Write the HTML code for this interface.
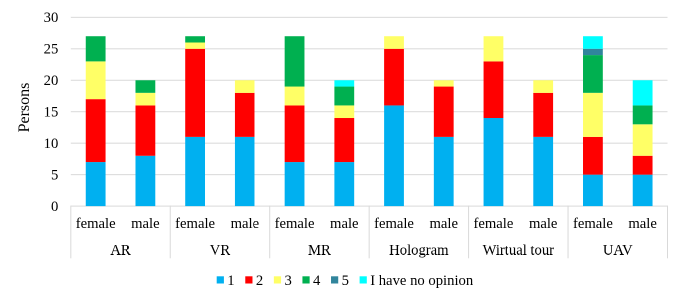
<!DOCTYPE html>
<html><head><meta charset="utf-8"><style>
html,body{margin:0;padding:0;background:#fff;width:685px;height:302px;overflow:hidden}
#w{position:absolute;left:0;top:0;width:1370px;height:604px;transform:scale(0.5);transform-origin:0 0;will-change:transform}
svg{display:block}
text{font-family:"Liberation Serif",serif;font-size:14.67px;fill:#000}
</style></head><body>
<div id="w"><svg width="1370" height="604" viewBox="0 0 685 302">
<rect x="70.80" y="174.14" width="596.70" height="1" fill="#D9D9D9"/>
<rect x="70.80" y="142.68" width="596.70" height="1" fill="#D9D9D9"/>
<rect x="70.80" y="111.22" width="596.70" height="1" fill="#D9D9D9"/>
<rect x="70.80" y="79.76" width="596.70" height="1" fill="#D9D9D9"/>
<rect x="70.80" y="48.30" width="596.70" height="1" fill="#D9D9D9"/>
<rect x="70.80" y="16.84" width="596.70" height="1" fill="#D9D9D9"/>
<rect x="70.80" y="205.60" width="596.70" height="1" fill="#D9D9D9"/>
<rect x="70.30" y="205.60" width="1" height="52.70" fill="#D9D9D9"/>
<rect x="169.75" y="205.60" width="1" height="52.70" fill="#D9D9D9"/>
<rect x="269.20" y="205.60" width="1" height="52.70" fill="#D9D9D9"/>
<rect x="368.65" y="205.60" width="1" height="52.70" fill="#D9D9D9"/>
<rect x="468.10" y="205.60" width="1" height="52.70" fill="#D9D9D9"/>
<rect x="567.55" y="205.60" width="1" height="52.70" fill="#D9D9D9"/>
<rect x="667.00" y="205.60" width="1" height="52.70" fill="#D9D9D9"/>
<rect x="85.76" y="162.06" width="19.80" height="44.04" fill="#00B0F0"/>
<rect x="85.76" y="99.14" width="19.80" height="62.92" fill="#FF0000"/>
<rect x="85.76" y="61.38" width="19.80" height="37.75" fill="#FFFF66"/>
<rect x="85.76" y="36.22" width="19.80" height="25.17" fill="#00B050"/>
<rect x="135.49" y="155.76" width="19.80" height="50.34" fill="#00B0F0"/>
<rect x="135.49" y="105.43" width="19.80" height="50.34" fill="#FF0000"/>
<rect x="135.49" y="92.84" width="19.80" height="12.58" fill="#FFFF66"/>
<rect x="135.49" y="80.26" width="19.80" height="12.58" fill="#00B050"/>
<rect x="185.21" y="136.89" width="19.80" height="69.21" fill="#00B0F0"/>
<rect x="185.21" y="48.80" width="19.80" height="88.09" fill="#FF0000"/>
<rect x="185.21" y="42.51" width="19.80" height="6.29" fill="#FFFF66"/>
<rect x="185.21" y="36.22" width="19.80" height="6.29" fill="#00B050"/>
<rect x="234.94" y="136.89" width="19.80" height="69.21" fill="#00B0F0"/>
<rect x="234.94" y="92.84" width="19.80" height="44.04" fill="#FF0000"/>
<rect x="234.94" y="80.26" width="19.80" height="12.58" fill="#FFFF66"/>
<rect x="284.66" y="162.06" width="19.80" height="44.04" fill="#00B0F0"/>
<rect x="284.66" y="105.43" width="19.80" height="56.63" fill="#FF0000"/>
<rect x="284.66" y="86.55" width="19.80" height="18.88" fill="#FFFF66"/>
<rect x="284.66" y="36.22" width="19.80" height="50.34" fill="#00B050"/>
<rect x="334.39" y="162.06" width="19.80" height="44.04" fill="#00B0F0"/>
<rect x="334.39" y="118.01" width="19.80" height="44.04" fill="#FF0000"/>
<rect x="334.39" y="105.43" width="19.80" height="12.58" fill="#FFFF66"/>
<rect x="334.39" y="86.55" width="19.80" height="18.88" fill="#00B050"/>
<rect x="334.39" y="80.26" width="19.80" height="6.29" fill="#00FFFF"/>
<rect x="384.11" y="105.43" width="19.80" height="100.67" fill="#00B0F0"/>
<rect x="384.11" y="48.80" width="19.80" height="56.63" fill="#FF0000"/>
<rect x="384.11" y="36.22" width="19.80" height="12.58" fill="#FFFF66"/>
<rect x="433.84" y="136.89" width="19.80" height="69.21" fill="#00B0F0"/>
<rect x="433.84" y="86.55" width="19.80" height="50.34" fill="#FF0000"/>
<rect x="433.84" y="80.26" width="19.80" height="6.29" fill="#FFFF66"/>
<rect x="483.56" y="118.01" width="19.80" height="88.09" fill="#00B0F0"/>
<rect x="483.56" y="61.38" width="19.80" height="56.63" fill="#FF0000"/>
<rect x="483.56" y="36.22" width="19.80" height="25.17" fill="#FFFF66"/>
<rect x="533.29" y="136.89" width="19.80" height="69.21" fill="#00B0F0"/>
<rect x="533.29" y="92.84" width="19.80" height="44.04" fill="#FF0000"/>
<rect x="533.29" y="80.26" width="19.80" height="12.58" fill="#FFFF66"/>
<rect x="583.01" y="174.64" width="19.80" height="31.46" fill="#00B0F0"/>
<rect x="583.01" y="136.89" width="19.80" height="37.75" fill="#FF0000"/>
<rect x="583.01" y="92.84" width="19.80" height="44.04" fill="#FFFF66"/>
<rect x="583.01" y="55.09" width="19.80" height="37.75" fill="#00B050"/>
<rect x="583.01" y="48.80" width="19.80" height="6.29" fill="#31859C"/>
<rect x="583.01" y="36.22" width="19.80" height="12.58" fill="#00FFFF"/>
<rect x="632.74" y="174.64" width="19.80" height="31.46" fill="#00B0F0"/>
<rect x="632.74" y="155.76" width="19.80" height="18.88" fill="#FF0000"/>
<rect x="632.74" y="124.30" width="19.80" height="31.46" fill="#FFFF66"/>
<rect x="632.74" y="105.43" width="19.80" height="18.88" fill="#00B050"/>
<rect x="632.74" y="80.26" width="19.80" height="25.17" fill="#00FFFF"/>
<rect x="216.70" y="276.3" width="7.2" height="7.2" fill="#00B0F0"/>
<rect x="245.28" y="276.3" width="7.2" height="7.2" fill="#FF0000"/>
<rect x="273.86" y="276.3" width="7.2" height="7.2" fill="#FFFF66"/>
<rect x="302.44" y="276.3" width="7.2" height="7.2" fill="#00B050"/>
<rect x="331.02" y="276.3" width="7.2" height="7.2" fill="#31859C"/>
<rect x="359.60" y="276.3" width="7.2" height="7.2" fill="#00FFFF"/>
<g><text x="58.3" y="210.90" text-anchor="end">0</text>
<text x="58.3" y="179.44" text-anchor="end">5</text>
<text x="58.3" y="147.98" text-anchor="end">10</text>
<text x="58.3" y="116.52" text-anchor="end">15</text>
<text x="58.3" y="85.06" text-anchor="end">20</text>
<text x="58.3" y="53.60" text-anchor="end">25</text>
<text x="58.3" y="22.14" text-anchor="end">30</text>
<text x="95.66" y="228" text-anchor="middle">female</text>
<text x="145.39" y="228" text-anchor="middle">male</text>
<text x="120.53" y="254.4" text-anchor="middle">AR</text>
<text x="195.11" y="228" text-anchor="middle">female</text>
<text x="244.84" y="228" text-anchor="middle">male</text>
<text x="219.97" y="254.4" text-anchor="middle">VR</text>
<text x="294.56" y="228" text-anchor="middle">female</text>
<text x="344.29" y="228" text-anchor="middle">male</text>
<text x="319.43" y="254.4" text-anchor="middle">MR</text>
<text x="394.01" y="228" text-anchor="middle">female</text>
<text x="443.74" y="228" text-anchor="middle">male</text>
<text x="418.88" y="254.4" text-anchor="middle">Hologram</text>
<text x="493.46" y="228" text-anchor="middle">female</text>
<text x="543.19" y="228" text-anchor="middle">male</text>
<text x="518.33" y="254.4" text-anchor="middle">Wirtual tour</text>
<text x="592.91" y="228" text-anchor="middle">female</text>
<text x="642.64" y="228" text-anchor="middle">male</text>
<text x="617.77" y="254.4" text-anchor="middle">UAV</text>
<text transform="translate(29,107.5) rotate(-90)" text-anchor="middle" style="font-size:16px">Persons</text>
<text x="227.30" y="285">1</text>
<text x="255.88" y="285">2</text>
<text x="284.46" y="285">3</text>
<text x="313.04" y="285">4</text>
<text x="341.62" y="285">5</text>
<text x="370.20" y="285">I have no opinion</text></g>
</svg></div>
</body></html>
